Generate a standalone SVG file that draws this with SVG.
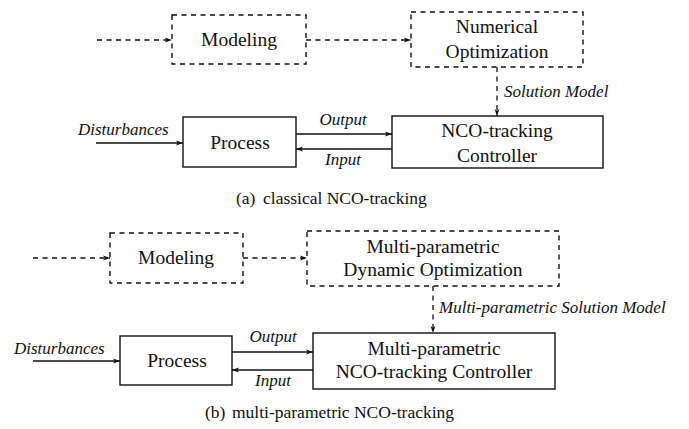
<svg xmlns="http://www.w3.org/2000/svg" width="689" height="429" viewBox="0 0 689 429">
  <style>
    .box { fill: #fff; stroke: #111; stroke-width: 1.4; }
    .dbox { fill: #fff; stroke: #111; stroke-width: 1.4; stroke-dasharray: 5 4.5; }
    .ln { fill: none; stroke: #111; stroke-width: 1.3; }
    .dln { fill: none; stroke: #111; stroke-width: 1.3; stroke-dasharray: 5 4.5; }
    text { font-family: 'Liberation Serif', 'Times New Roman', serif; fill: #111; }
    .t { font-size: 19.5px; text-anchor: middle; }
    .lbl { font-size: 17px; font-style: italic; }
    .cap { font-size: 17.5px; }
  </style>
  <defs>
    <marker id="arr" viewBox="0 0 10 10" refX="10" refY="5" markerWidth="7" markerHeight="7" markerUnits="userSpaceOnUse" orient="auto">
      <path d="M0,1.5 L10,5 L0,8.5 L2.5,5 Z" fill="#111"/>
    </marker>
  </defs>

  <!-- (a) classical NCO-tracking -->
  <g id="a-modeling">
    <rect class="dbox" x="172" y="15" width="134" height="49"/>
    <text class="t" x="239" y="46">Modeling</text>
  </g>
  <g id="a-numopt">
    <rect class="dbox" x="411" y="12" width="172" height="55"/>
    <text class="t" x="497" y="33">Numerical</text>
    <text class="t" x="497" y="58">Optimization</text>
  </g>
  <g id="a-process">
    <rect class="box" x="183" y="117" width="113" height="50"/>
    <text class="t" x="240" y="149">Process</text>
  </g>
  <g id="a-controller">
    <rect class="box" x="392" y="116" width="211" height="52"/>
    <text class="t" x="497" y="137">NCO-tracking</text>
    <text class="t" x="497" y="162">Controller</text>
  </g>

  <!-- (b) multi-parametric NCO-tracking -->
  <g id="b-modeling">
    <rect class="dbox" x="110" y="233" width="133" height="50"/>
    <text class="t" x="176" y="264">Modeling</text>
  </g>
  <g id="b-dynopt">
    <rect class="dbox" x="307" y="231" width="252" height="55"/>
    <text class="t" x="433" y="253">Multi-parametric</text>
    <text class="t" x="433" y="276">Dynamic Optimization</text>
  </g>
  <g id="b-process">
    <rect class="box" x="120" y="336" width="112" height="49"/>
    <text class="t" x="177" y="367">Process</text>
  </g>
  <g id="b-controller">
    <rect class="box" x="313" y="333" width="242" height="56"/>
    <text class="t" x="434" y="355">Multi-parametric</text>
    <text class="t" x="434" y="378">NCO-tracking Controller</text>
  </g>

  <g id="connectors">
    <!-- (a) -->
    <line class="dln" x1="97" y1="40" x2="172" y2="40" marker-end="url(#arr)"/>
    <line class="dln" x1="306" y1="40" x2="411" y2="40" marker-end="url(#arr)"/>
    <line class="dln" x1="497" y1="67" x2="497" y2="116" marker-end="url(#arr)"/>
    <line class="ln" x1="96" y1="143" x2="183" y2="143" marker-end="url(#arr)"/>
    <line class="ln" x1="296" y1="134" x2="392" y2="134" marker-end="url(#arr)"/>
    <line class="ln" x1="392" y1="149" x2="296" y2="149" marker-end="url(#arr)"/>
    <!-- (b) -->
    <line class="dln" x1="33" y1="258" x2="110" y2="258" marker-end="url(#arr)"/>
    <line class="dln" x1="243" y1="258" x2="307" y2="258" marker-end="url(#arr)"/>
    <line class="dln" x1="433" y1="286" x2="433" y2="333" marker-end="url(#arr)"/>
    <line class="ln" x1="33" y1="361" x2="120" y2="361" marker-end="url(#arr)"/>
    <line class="ln" x1="232" y1="352" x2="313" y2="352" marker-end="url(#arr)"/>
    <line class="ln" x1="313" y1="370" x2="232" y2="370" marker-end="url(#arr)"/>
  </g>

  <g id="labels">
    <text class="lbl" x="504" y="97">Solution Model</text>
    <text class="lbl" x="78" y="135">Disturbances</text>
    <text class="lbl" x="343" y="125" text-anchor="middle">Output</text>
    <text class="lbl" x="343" y="165" text-anchor="middle">Input</text>
    <text class="lbl" x="439" y="313">Multi-parametric Solution Model</text>
    <text class="lbl" x="14" y="354">Disturbances</text>
    <text class="lbl" x="273" y="342" text-anchor="middle">Output</text>
    <text class="lbl" x="273" y="386" text-anchor="middle">Input</text>
  </g>

  <g id="captions">
    <text class="cap" x="236" y="204">(a)<tspan x="263">classical NCO-tracking</tspan></text>
    <text class="cap" x="205" y="418">(b)<tspan x="232">multi-parametric NCO-tracking</tspan></text>
  </g>
</svg>
